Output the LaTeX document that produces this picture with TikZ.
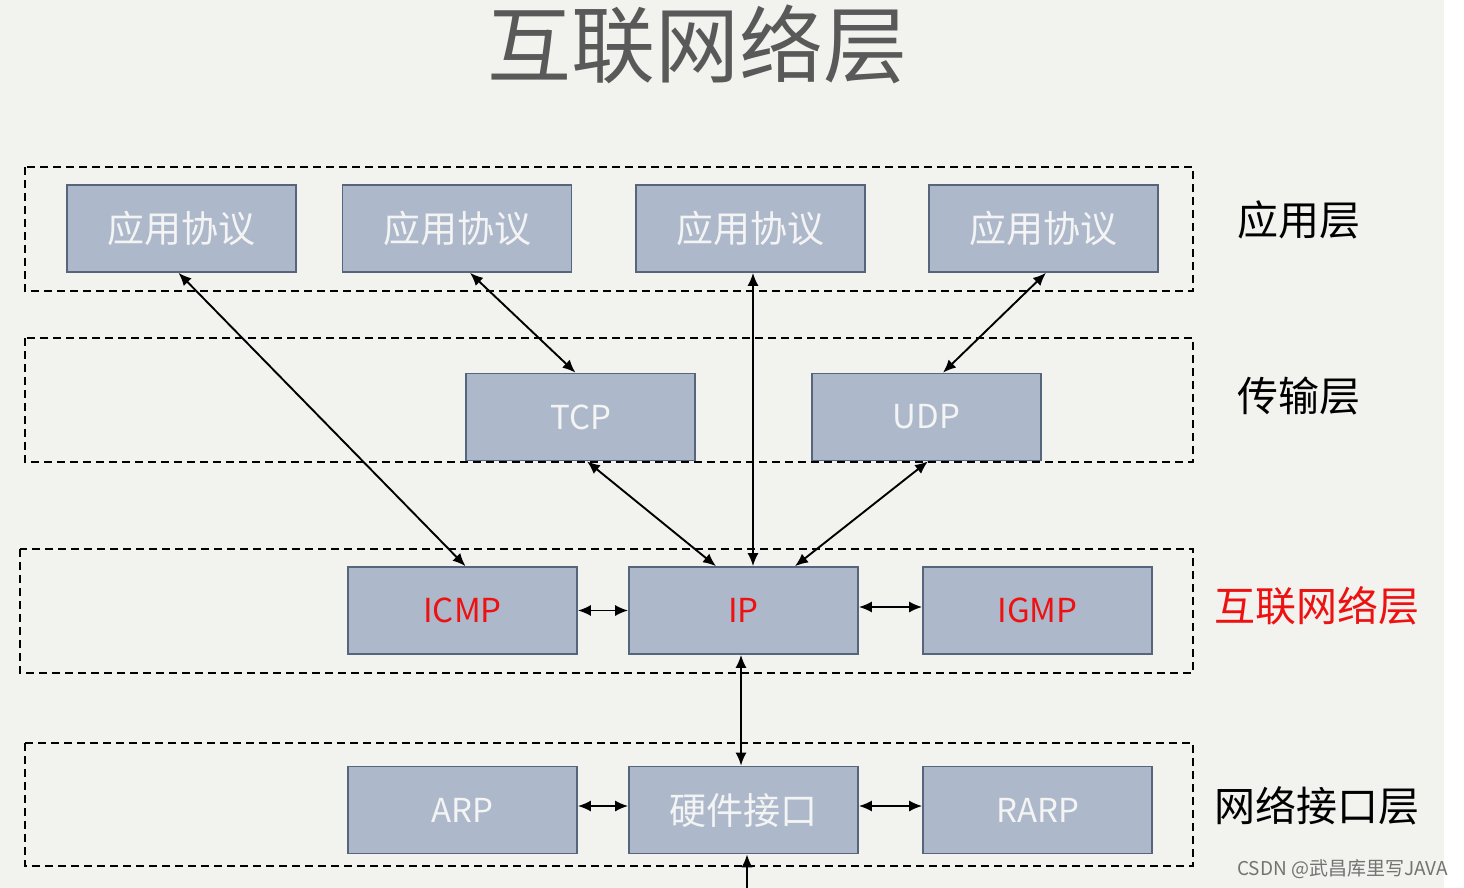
\documentclass[tikz,border=0pt]{standalone}
\usepackage{fontspec}
\setmainfont{Noto Sans CJK SC}
\usetikzlibrary{arrows.meta}
\definecolor{bg}{HTML}{F2F2EE}
\definecolor{boxfill}{HTML}{ADB9CA}
\definecolor{boxline}{HTML}{56657C}
\definecolor{titlegray}{HTML}{595959}
\definecolor{boxtext}{HTML}{F4F4F4}
\definecolor{redtext}{HTML}{EE1111}
\begin{document}
\begin{tikzpicture}[x=1pt,y=-1pt,
  proto/.style={draw=boxline,line width=1.6pt,fill=boxfill,minimum width=229pt,minimum height=87pt,inner sep=0pt,text=boxtext,font=\fontsize{37pt}{37pt}\selectfont},
  latin/.style={font=\fontsize{33pt}{33pt}\selectfont},
  layerbox/.style={draw=black,line width=1.8pt,dash pattern=on 8pt off 5pt},
  layerlabel/.style={font=\fontsize{41pt}{41pt}\selectfont,text=black,inner sep=0pt},
  link/.style={line width=1.9pt,{Latex[length=13pt,width=11pt]}-{Latex[length=13pt,width=11pt]}},
  uplink/.style={line width=1.9pt,-{Latex[length=13pt,width=11pt]}}]
\useasboundingbox (0,0) rectangle (1464,888);
\fill[white] (0,0) rectangle (1464,888);
\fill[bg] (0,0) rectangle (1444,888);
% title
\node[font=\fontsize{84pt}{84pt}\selectfont,text=titlegray,inner sep=0pt] (title) at (697,44) {互联网络层};
% layer boxes
\draw[layerbox] (25,167) rectangle (1193,291);
\draw[layerbox] (25,338) rectangle (1193,462);
\draw[layerbox] (20,549) rectangle (1193,673);
\draw[layerbox] (25,743) rectangle (1193,866);
% layer labels
\node[layerlabel] (lapp) at (1299,220) {应用层};
\node[layerlabel] (ltr) at (1299,396) {传输层};
\node[layerlabel,text=redtext] (lnet) at (1317,606) {互联网络层};
\node[layerlabel] (llink) at (1317,806) {网络接口层};
% application row
\node[proto] (A1) at (181.5,228.5) {应用协议};
\node[proto] (A2) at (457,228.5) {应用协议};
\node[proto] (A3) at (750.5,228.5) {应用协议};
\node[proto] (A4) at (1043.5,228.5) {应用协议};
% transport row
\node[proto,latin] (TCP) at (580.5,417) {TCP};
\node[proto,latin] (UDP) at (926.5,417) {UDP};
% internet row
\node[proto,latin,text=redtext] (ICMP) at (462.5,610.5) {ICMP};
\node[proto,latin,text=redtext] (IP) at (743.5,610.5) {IP};
\node[proto,latin,text=redtext] (IGMP) at (1037.5,610.5) {IGMP};
% link row
\node[proto,latin] (ARP) at (462.5,810) {ARP};
\node[proto] (HW) at (743.5,810) {硬件接口};
\node[proto,latin] (RARP) at (1037.5,810) {RARP};
% connectors
\draw[link] ([xshift=-3pt]A1.south) -- ([xshift=3pt]ICMP.north);
\draw[link] ([xshift=13pt]A2.south) -- ([xshift=-5pt]TCP.north);
\draw[link] ([xshift=2.5pt]A3.south) -- ([xshift=9.5pt]IP.north);
\draw[link] ([xshift=2.5pt]A4.south) -- ([xshift=16.5pt]UDP.north);
\draw[link] ([xshift=6.5pt]TCP.south) -- ([xshift=-27.5pt]IP.north);
\draw[link] ([xshift=1.5pt]UDP.south) -- ([xshift=51.5pt]IP.north);
\draw[link] (ICMP.east) -- (IP.west);
\draw[link] ([yshift=3.5pt]IP.east) -- ([yshift=3.5pt]IGMP.west);
\draw[link] ([xshift=-2.5pt]IP.south) -- ([xshift=-2.5pt]HW.north);
\draw[link] ([yshift=4pt]ARP.east) -- ([yshift=4pt]HW.west);
\draw[link] ([yshift=4pt]HW.east) -- ([yshift=4pt]RARP.west);
\coordinate (bottom) at (747,888);
\draw[uplink] (bottom) -- ([xshift=3.5pt]HW.south);
% watermark
\node[font=\fontsize{19pt}{19pt}\selectfont,text=black!55,inner sep=0pt,anchor=east] (wm) at (1448,869) {CSDN @武昌库里写JAVA};
\end{tikzpicture}
\end{document}
